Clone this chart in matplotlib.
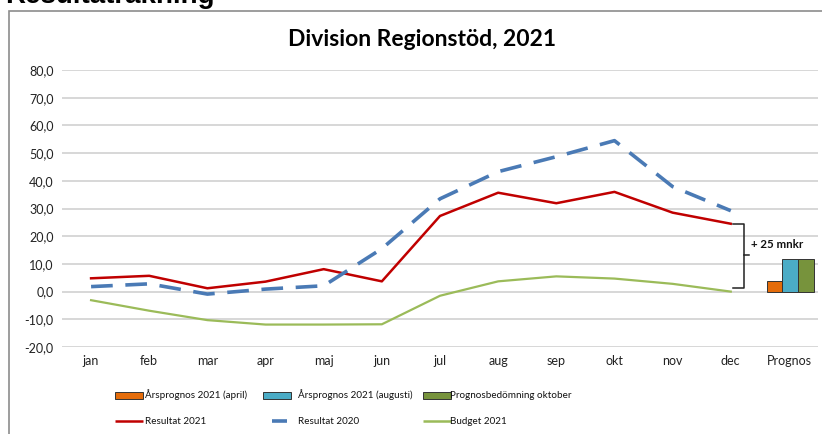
import matplotlib
matplotlib.use("Agg")
import matplotlib.pyplot as plt
from matplotlib.patches import Rectangle
from matplotlib.lines import Line2D
import numpy as np

plt.rcParams['font.family'] = ['Lato', 'DejaVu Sans']

categories = ["jan", "feb", "mar", "apr", "maj", "jun", "jul", "aug", "sep", "okt", "nov", "dec", "Prognos"]
months = categories[:12]
resultat_2021 = [4.8, 5.7, 1.2, 3.6, 8.1, 3.7, 27.3, 35.7, 31.9, 36.0, 28.5, 24.5]
resultat_2020 = [1.8, 2.8, -0.9, 0.9, 2.1, 15.5, 33.5, 43.3, 48.7, 54.5, 37.9, 29.2]
budget_2021 = [-3.1, -6.9, -10.3, -11.9, -11.9, -11.8, -1.5, 3.7, 5.5, 4.7, 2.8, 0.0]
bar_labels = ["Årsprognos 2021 (april)", "Årsprognos 2021 (augusti)", "Prognosbedömning oktober"]
bar_values = [4.0, 11.8, 11.8]
bar_colors = ["#e46c0a", "#4bacc6", "#77933c"]
line_labels = ["Resultat 2021", "Resultat 2020", "Budget 2021"]
line_colors = ["#c00000", "#4a7ab5", "#9bbb59"]
yticks = [-20, -10, 0, 10, 20, 30, 40, 50, 60, 70, 80]
title = "Division Regionstöd, 2021"
header = "Resultaträkning"
brace_label = "+ 25 mnkr"

W, H = 822, 434
fig = plt.figure(figsize=(W / 100, H / 100), dpi=100)


def fx(px):
    return px / W


def fy(py):
    return 1 - py / H


# outer frame
fig.patches.append(Rectangle((fx(9), -0.01), 1.0, fy(11) + 0.01, transform=fig.transFigure,
                             fill=False, edgecolor="#8c8c8c", linewidth=1.2))
fig.text(fx(5), fy(3), header, fontsize=20, fontweight="bold", family=["Liberation Sans"],
         va="baseline", ha="left")

ax = fig.add_axes([fx(62), fy(347), (818 - 62) / W, (347 - 70) / H])
x = np.arange(len(months))
ax.plot(x, resultat_2021, color=line_colors[0], lw=1.8, zorder=3)
ax.plot(x, resultat_2020, color=line_colors[1], lw=2.6, dashes=(6, 3.5), zorder=3)
ax.plot(x, budget_2021, color=line_colors[2], lw=1.6, zorder=3)

bw = 0.27
pidx = len(categories) - 1
for i, (v, c) in enumerate(zip(bar_values, bar_colors)):
    ax.bar(pidx + (i - 1) * bw + 0.02, v, width=bw, color=c, edgecolor="#333333", linewidth=0.7, zorder=3)

ax.set_xlim(-0.5, len(categories) - 0.5)
ax.set_ylim(-20, 80)
ax.set_yticks(yticks)
ax.set_yticklabels([f"{v:.1f}".replace(".", ",") for v in yticks])
ax.set_xticks(np.arange(len(categories)))
ax.set_xticklabels(categories)
ax.tick_params(length=0, labelsize=9, colors="#222222", pad=6)
ax.grid(axis="y", color="#d4d4d4", lw=1.3)
ax.set_axisbelow(True)
for s in ax.spines.values():
    s.set_visible(False)

# brace
bx0, bx1, bxm = 11.04, 11.22, 11.32
ytop, ybot = 24.5, 1.2
ymid = (ytop + ybot) / 2 + 0.5
ax.plot([bx0, bx1, bx1, bx0], [ytop, ytop, ybot, ybot], color="#222222", lw=1.1, zorder=4)
ax.plot([bx1, bxm], [ymid, ymid], color="#222222", lw=1.1, zorder=4)
ax.text(11.35, 17.1, brace_label, fontsize=8.3, fontweight="bold", va="center", ha="left", color="#111111")

fig.text(fx(422), fy(40), title, fontsize=16.5, fontweight="bold", ha="center", va="center")

# manual legend
col_x = [115, 263, 423]
text_x = [145, 298, 450]
row_y = [395, 421]
for i in range(3):
    fig.patches.append(Rectangle((fx(col_x[i]), fy(row_y[0] + 3.5)), 28 / W, 7 / H, transform=fig.transFigure,
                                 facecolor=bar_colors[i], edgecolor="#333333", linewidth=0.7))
    fig.text(fx(text_x[i]), fy(row_y[0]), bar_labels[i], fontsize=7.1,
             va="center", ha="left", color="#111111")
    if i == 1:
        lx = [fx(272), fx(287)]
    else:
        lx = [fx(col_x[i]), fx(col_x[i] + 28)]
    fig.add_artist(Line2D(lx, [fy(row_y[1]), fy(row_y[1])], color=line_colors[i],
                          lw=2.6 if i == 1 else 1.8, transform=fig.transFigure, solid_capstyle="butt"))
    fig.text(fx(text_x[i]), fy(row_y[1]), line_labels[i], fontsize=7.1,
             va="center", ha="left", color="#111111")

fig.savefig("out.png", dpi=100)
